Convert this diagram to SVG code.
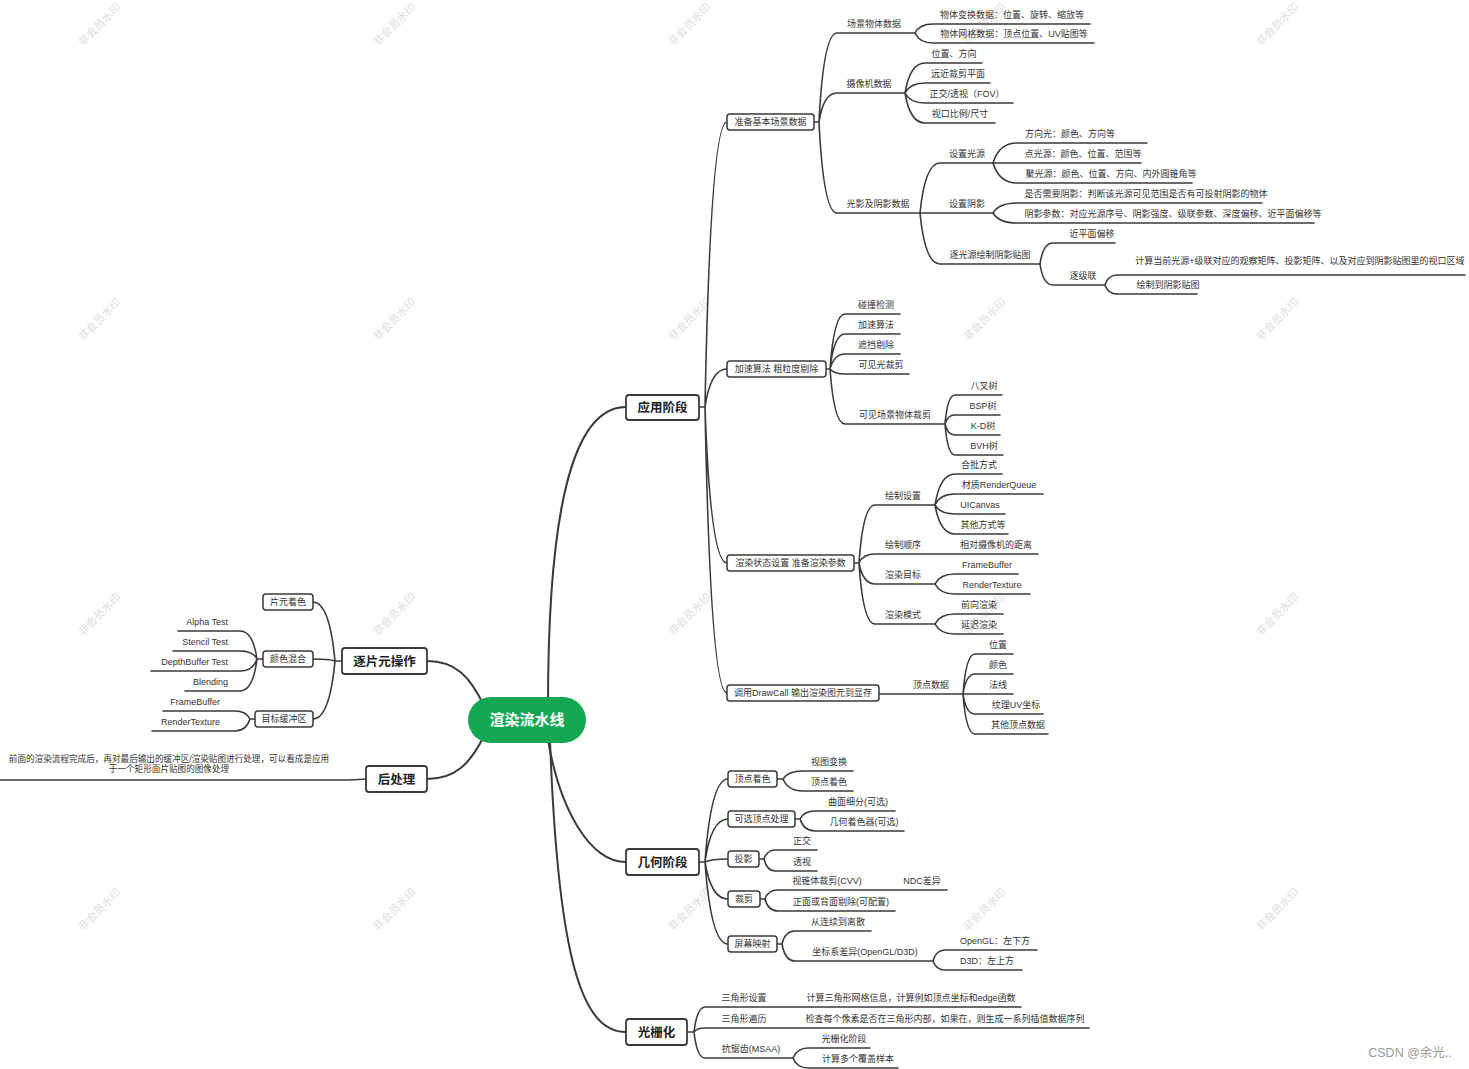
<svg xmlns="http://www.w3.org/2000/svg" width="1469" height="1069" viewBox="0 0 1469 1069">
<style>
text{font-family:"Liberation Sans","Noto Sans CJK SC",sans-serif;fill:#333}
.t{font-size:9px;text-anchor:middle}
.e{font-size:9px;text-anchor:end}
.b{font-size:9px;text-anchor:middle}
.m{font-size:12.5px;font-weight:bold;text-anchor:middle;fill:#222}
.c{font-size:15px;font-weight:bold;text-anchor:middle;fill:#fff}
.w{font-size:11px;text-anchor:middle;fill:#dcdcdc}
.sb{fill:#fff;stroke:#3a3a3a;stroke-width:1.5}
.mb{fill:#fff;stroke:#3a3a3a;stroke-width:1.8}
#connectors path{fill:none;stroke:#3a3a3a;stroke-width:1.6;stroke-linecap:round}
#connectors .k{stroke-width:2}
</style>
<rect width="1469" height="1069" fill="#fff"/>
<g id="watermarks">
<text class="w" x="100" y="28" transform="rotate(-45 100 25)">非会员水印</text>
<text class="w" x="395" y="28" transform="rotate(-45 395 25)">非会员水印</text>
<text class="w" x="690" y="28" transform="rotate(-45 690 25)">非会员水印</text>
<text class="w" x="985" y="28" transform="rotate(-45 985 25)">非会员水印</text>
<text class="w" x="1278" y="28" transform="rotate(-45 1278 25)">非会员水印</text>
<text class="w" x="100" y="323" transform="rotate(-45 100 320)">非会员水印</text>
<text class="w" x="395" y="323" transform="rotate(-45 395 320)">非会员水印</text>
<text class="w" x="690" y="323" transform="rotate(-45 690 320)">非会员水印</text>
<text class="w" x="985" y="323" transform="rotate(-45 985 320)">非会员水印</text>
<text class="w" x="1278" y="323" transform="rotate(-45 1278 320)">非会员水印</text>
<text class="w" x="100" y="618" transform="rotate(-45 100 615)">非会员水印</text>
<text class="w" x="395" y="618" transform="rotate(-45 395 615)">非会员水印</text>
<text class="w" x="690" y="618" transform="rotate(-45 690 615)">非会员水印</text>
<text class="w" x="985" y="618" transform="rotate(-45 985 615)">非会员水印</text>
<text class="w" x="1278" y="618" transform="rotate(-45 1278 615)">非会员水印</text>
<text class="w" x="100" y="913" transform="rotate(-45 100 910)">非会员水印</text>
<text class="w" x="395" y="913" transform="rotate(-45 395 910)">非会员水印</text>
<text class="w" x="690" y="913" transform="rotate(-45 690 910)">非会员水印</text>
<text class="w" x="985" y="913" transform="rotate(-45 985 910)">非会员水印</text>
<text class="w" x="1278" y="913" transform="rotate(-45 1278 910)">非会员水印</text>
</g>
<g id="connectors">
<path class="k" d="M548,705 C548,520 570,407 626,407"/>
<path class="k" d="M548,740 C560,810 590,862 626,862"/>
<path class="k" d="M550,740 C558,960 582,1032 626,1032"/>
<path class="k" d="M484,706 C470,676 455,661 427,661"/>
<path class="k" d="M484,736 C470,764 455,779 427,779"/>
<path d="M699,407 H705 M705,407 Q710.5,122 727,122 M705,407 Q710.5,369 727,369 M705,407 Q710.5,563 727,563 M705,407 Q710.5,693 727,693"/>
<path d="M814,122 H819 M819,122 Q823.5,33 837,33 H915 M819,122 Q823.5,93 837,93 H905 M819,122 Q823.5,213 837,213 H920"/>
<path d="M915,33 Q919.5,24 933,24 H1090 M915,33 Q919.5,43 933,43 H1094"/>
<path d="M905,93 Q910,63 925,63 H982 M905,93 Q910,83 925,83 H990 M905,93 Q910,103 925,103 H1013 M905,93 Q910,123 925,123 H995"/>
<path d="M920,213 Q925,163 940,163 H993 M920,213 H993 M920,213 Q925,264 940,264 H1040"/>
<path d="M993,163 Q999,143 1017,143 H1147 M993,163 H1141 M993,163 Q999,183 1017,183 H1192"/>
<path d="M993,213 Q999,203 1017,203 H1262 M993,213 Q999,223 1017,223 H1314"/>
<path d="M1040,264 Q1043,243 1053,243 H1115 M1040,264 Q1043,285 1053,285 H1105"/>
<path d="M1105,285 Q1108,275 1117,275 H1465 M1105,285 Q1108,294 1117,294 H1197"/>
<path d="M826,369 H830 M830,369 Q834,314 845,314 H900 M830,369 Q834,334 845,334 H900 M830,369 Q834,354 845,354 H900 M830,369 Q834,374 845,374 H909 M830,369 Q834,424 845,424 H945"/>
<path d="M945,424 Q947.5,395 955,395 H1002 M945,424 Q947.5,415 955,415 H1000 M945,424 Q947.5,435 955,435 H1000 M945,424 Q947.5,455 955,455 H1003"/>
<path d="M854,563 H859 M859,563 Q863,505 875,505 H935 M859,563 Q863,554 875,554 H1038 M859,563 Q863,584 875,584 H935 M859,563 Q863,624 875,624 H935"/>
<path d="M935,505 Q940,474 955,474 H1002 M935,505 Q940,494 955,494 H1043 M935,505 Q940,514 955,514 H1005 M935,505 Q940,534 955,534 H1008"/>
<path d="M935,584 Q940,574 955,574 H1018 M935,584 Q940,594 955,594 H1030"/>
<path d="M935,624 Q940,614 955,614 H1003 M935,624 Q940,634 955,634 H1003"/>
<path d="M879,694 H963 M963,694 Q966,654 975,654 H1013 M963,694 Q966,674 975,674 H1013 M963,694 H1013 M963,694 Q966,714 975,714 H1043 M963,694 Q966,734 975,734 H1048"/>
<path d="M699,862 H705 M705,862 Q711,779 728,779 M705,862 Q711,819 728,819 M705,862 Q711,859 728,859 M705,862 Q711,899 728,899 M705,862 Q711,944 728,944"/>
<path d="M777,779 H783 M783,779 Q788,771 803,771 H853 M783,779 Q788,791 803,791 H853"/>
<path d="M795,819 H800 M800,819 Q804,811 815,811 H895 M800,819 Q804,831 815,831 H904"/>
<path d="M759,859 H764 M764,859 Q767,850 775,850 H817 M764,859 Q767,871 775,871 H817"/>
<path d="M760,899 H765 M765,899 Q768,890 778,890 H947 M765,899 Q768,911 778,911 H895"/>
<path d="M777,944 H782 M782,944 Q785,931 795,931 H871 M782,944 Q785,961 795,961 H933"/>
<path d="M933,961 Q936,950 945,950 H1037 M933,961 Q936,970 945,970 H1022"/>
<path d="M687,1032 H694 M694,1032 Q697,1007 705,1007 H1021 M694,1032 Q697,1028 705,1028 H1089 M694,1032 Q697,1058 705,1058 H793"/>
<path d="M793,1058 Q797,1048 808,1048 H870 M793,1058 Q797,1068 808,1068 H898"/>
<path d="M342,661 H335 M335,661 Q329.5,602 313,602 M335,661 Q329.5,659 313,659 M335,661 Q329.5,719 313,719"/>
<path d="M263,659 H257 M257,659 Q253,631 240,631 H178 M257,659 Q253,651 240,651 H173 M257,659 Q253,671 240,671 H151 M257,659 Q253,691 240,691 H185"/>
<path d="M255,719 H250 M250,719 Q246,711 235,711 H163 M250,719 Q246,731 235,731 H152"/>
<path d="M366,779 Q355,780 345,780 H0"/>
</g>
<g id="root"><rect x="468" y="697" width="118" height="46" rx="23" fill="#14a751"/><text class="c" x="527" y="725">渲染流水线</text></g>
<g id="n-app"><rect class="mb" x="626" y="395" width="73" height="25" rx="3"/><text class="m" x="662.5" y="412">应用阶段</text></g>
<g id="n-geo"><rect class="mb" x="626" y="849" width="73" height="26" rx="3"/><text class="m" x="662.5" y="866.5">几何阶段</text></g>
<g id="n-ras"><rect class="mb" x="626" y="1019" width="61" height="26" rx="3"/><text class="m" x="656.5" y="1036.5">光栅化</text></g>
<g id="n-frag"><rect class="mb" x="342" y="648" width="85" height="26" rx="3"/><text class="m" x="384.5" y="665.5">逐片元操作</text></g>
<g id="n-post"><rect class="mb" x="366" y="766" width="61" height="26" rx="3"/><text class="m" x="396.5" y="783.5">后处理</text></g>
<g id="n-scene"><rect class="sb" x="727" y="114" width="87" height="16" rx="3"/><text class="b" x="770.5" y="125.2">准备基本场景数据</text></g>
<g id="n-accel"><rect class="sb" x="727" y="361" width="99" height="16" rx="3"/><text class="b" x="776.5" y="372.2">加速算法 粗粒度剔除</text></g>
<g id="n-state"><rect class="sb" x="727" y="555" width="127" height="16" rx="3"/><text class="b" x="790.5" y="566.2">渲染状态设置 准备渲染参数</text></g>
<g id="n-draw"><rect class="sb" x="727" y="685" width="152" height="16" rx="3"/><text class="b" x="803" y="696.2">调用DrawCall 输出渲染图元到显存</text></g>
<g id="n-vs"><rect class="sb" x="728" y="771" width="49" height="16" rx="3"/><text class="b" x="752.5" y="782.2">顶点着色</text></g>
<g id="n-opt"><rect class="sb" x="728" y="811" width="67" height="16" rx="3"/><text class="b" x="761.5" y="822.2">可选顶点处理</text></g>
<g id="n-proj"><rect class="sb" x="728" y="851" width="31" height="16" rx="3"/><text class="b" x="743.5" y="862.2">投影</text></g>
<g id="n-clip"><rect class="sb" x="728" y="891" width="32" height="16" rx="3"/><text class="b" x="744" y="902.2">裁剪</text></g>
<g id="n-screen"><rect class="sb" x="728" y="936" width="49" height="16" rx="3"/><text class="b" x="752.5" y="947.2">屏幕映射</text></g>
<g id="n-fs"><rect class="sb" x="263" y="594" width="50" height="16" rx="3"/><text class="b" x="288" y="605.2">片元着色</text></g>
<g id="n-blend"><rect class="sb" x="263" y="651" width="50" height="16" rx="3"/><text class="b" x="288" y="662.2">颜色混合</text></g>
<g id="n-target"><rect class="sb" x="255" y="711" width="58" height="16" rx="3"/><text class="b" x="284" y="722.2">目标缓冲区</text></g>
<g id="leaves-scene">
<g id="l1"><text class="t" x="874" y="27">场景物体数据</text></g>
<g id="l2"><text class="t" x="1012" y="18">物体变换数据：位置、旋转、缩放等</text></g>
<g id="l3"><text class="t" x="1014" y="37">物体网格数据：顶点位置、UV贴图等</text></g>
<g id="l4"><text class="t" x="869" y="87">摄像机数据</text></g>
<g id="l5"><text class="t" x="954" y="57">位置、方向</text></g>
<g id="l6"><text class="t" x="958" y="77">远近裁剪平面</text></g>
<g id="l7"><text class="t" x="967" y="97">正交/透视（FOV）</text></g>
<g id="l8"><text class="t" x="960" y="117">视口比例/尺寸</text></g>
<g id="l9"><text class="t" x="878" y="207">光影及阴影数据</text></g>
<g id="l10"><text class="t" x="967" y="157">设置光源</text></g>
<g id="l11"><text class="t" x="1070" y="137">方向光：颜色、方向等</text></g>
<g id="l12"><text class="t" x="1083" y="157">点光源：颜色、位置、范围等</text></g>
<g id="l13"><text class="t" x="1111" y="177">聚光源：颜色、位置、方向、内外圆锥角等</text></g>
<g id="l14"><text class="t" x="967" y="207">设置阴影</text></g>
<g id="l15"><text class="t" x="1146" y="197">是否需要阴影：判断该光源可见范围是否有可投射阴影的物体</text></g>
<g id="l16"><text class="t" x="1173" y="217">阴影参数：对应光源序号、阴影强度、级联参数、深度偏移、近平面偏移等</text></g>
<g id="l17"><text class="t" x="990" y="258">逐光源绘制阴影贴图</text></g>
<g id="l18"><text class="t" x="1092" y="237">近平面偏移</text></g>
<g id="l19"><text class="t" x="1083" y="279">逐级联</text></g>
<g id="l20"><text class="t" x="1300" y="264">计算当前光源+级联对应的观察矩阵、投影矩阵、以及对应到阴影贴图里的视口区域</text></g>
<g id="l21"><text class="t" x="1168" y="288">绘制到阴影贴图</text></g>
</g>
<g id="leaves-accel">
<g id="l22"><text class="t" x="876" y="308">碰撞检测</text></g>
<g id="l23"><text class="t" x="876" y="328">加速算法</text></g>
<g id="l24"><text class="t" x="876" y="348">遮挡剔除</text></g>
<g id="l25"><text class="t" x="881" y="368">可见光裁剪</text></g>
<g id="l26"><text class="t" x="895" y="418">可见场景物体裁剪</text></g>
<g id="l27"><text class="t" x="984" y="389">八叉树</text></g>
<g id="l28"><text class="t" x="983" y="409">BSP树</text></g>
<g id="l29"><text class="t" x="983" y="429">K-D树</text></g>
<g id="l30"><text class="t" x="984" y="449">BVH树</text></g>
</g>
<g id="leaves-state">
<g id="l31"><text class="t" x="903" y="499">绘制设置</text></g>
<g id="l32"><text class="t" x="979" y="468">合批方式</text></g>
<g id="l33"><text class="t" x="999" y="488">材质RenderQueue</text></g>
<g id="l34"><text class="t" x="980" y="508">UICanvas</text></g>
<g id="l35"><text class="t" x="983" y="528">其他方式等</text></g>
<g id="l36"><text class="t" x="903" y="548">绘制顺序</text></g>
<g id="l37"><text class="t" x="996" y="548">相对摄像机的距离</text></g>
<g id="l38"><text class="t" x="903" y="578">渲染目标</text></g>
<g id="l39"><text class="t" x="987" y="568">FrameBuffer</text></g>
<g id="l40"><text class="t" x="992" y="588">RenderTexture</text></g>
<g id="l41"><text class="t" x="903" y="618">渲染模式</text></g>
<g id="l42"><text class="t" x="979" y="608">前向渲染</text></g>
<g id="l43"><text class="t" x="979" y="628">延迟渲染</text></g>
</g>
<g id="leaves-draw">
<g id="l44"><text class="t" x="931" y="688">顶点数据</text></g>
<g id="l45"><text class="t" x="998" y="648">位置</text></g>
<g id="l46"><text class="t" x="998" y="668">颜色</text></g>
<g id="l47"><text class="t" x="998" y="688">法线</text></g>
<g id="l48"><text class="t" x="1016" y="708">纹理UV坐标</text></g>
<g id="l49"><text class="t" x="1018" y="728">其他顶点数据</text></g>
</g>
<g id="leaves-geo">
<g id="l50"><text class="t" x="829" y="765">视图变换</text></g>
<g id="l51"><text class="t" x="829" y="785">顶点着色</text></g>
<g id="l52"><text class="t" x="858" y="805">曲面细分(可选)</text></g>
<g id="l53"><text class="t" x="864" y="825">几何着色器(可选)</text></g>
<g id="l54"><text class="t" x="802" y="844">正交</text></g>
<g id="l55"><text class="t" x="802" y="865">透视</text></g>
<g id="l56"><text class="t" x="827" y="884">视锥体裁剪(CVV)</text></g>
<g id="l57"><text class="t" x="922" y="884">NDC差异</text></g>
<g id="l58"><text class="t" x="841" y="905">正面或背面剔除(可配置)</text></g>
<g id="l59"><text class="t" x="838" y="925">从连续到离散</text></g>
<g id="l60"><text class="t" x="865" y="955">坐标系差异(OpenGL/D3D)</text></g>
<g id="l61"><text class="t" x="995" y="944">OpenGL：左下方</text></g>
<g id="l62"><text class="t" x="987" y="964">D3D：左上方</text></g>
</g>
<g id="leaves-ras">
<g id="l63"><text class="t" x="744" y="1001">三角形设置</text></g>
<g id="l64"><text class="t" x="911" y="1001">计算三角形网格信息，计算例如顶点坐标和edge函数</text></g>
<g id="l65"><text class="t" x="744" y="1022">三角形遍历</text></g>
<g id="l66"><text class="t" x="945" y="1022">检查每个像素是否在三角形内部，如果在，则生成一系列插值数据序列</text></g>
<g id="l67"><text class="t" x="751" y="1052">抗锯齿(MSAA)</text></g>
<g id="l68"><text class="t" x="844" y="1042">光栅化阶段</text></g>
<g id="l69"><text class="t" x="858" y="1062">计算多个覆盖样本</text></g>
</g>
<g id="leaves-frag">
<g id="l70"><text class="e" x="228" y="625">Alpha Test</text></g>
<g id="l71"><text class="e" x="228" y="645">Stencil Test</text></g>
<g id="l72"><text class="e" x="228" y="665">DepthBuffer Test</text></g>
<g id="l73"><text class="e" x="228" y="685">Blending</text></g>
<g id="l74"><text class="e" x="220" y="705">FrameBuffer</text></g>
<g id="l75"><text class="e" x="220" y="725">RenderTexture</text></g>
</g>
<g id="leaf-post"><text class="t" style="font-size:8.6px" x="169" y="762">前面的渲染流程完成后，再对最后输出的缓冲区/渲染贴图进行处理，可以看成是应用</text><text class="t" style="font-size:8.6px" x="169" y="772">于一个矩形面片贴图的图像处理</text></g>
<text x="1410" y="1057" style="font-size:12.5px;fill:#9a9a9a;text-anchor:middle">CSDN @余光..</text>
</svg>
